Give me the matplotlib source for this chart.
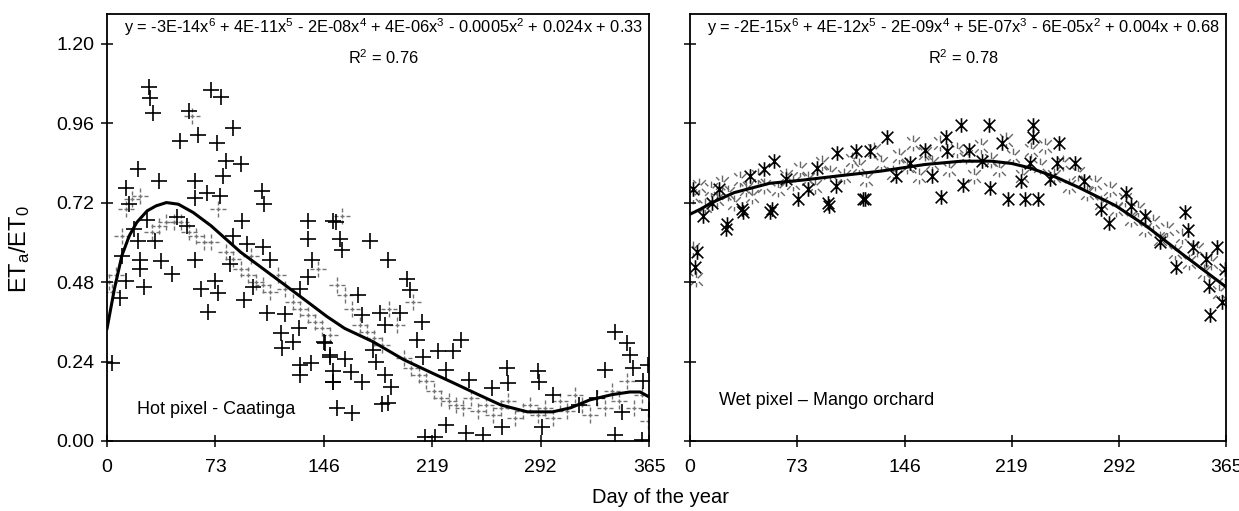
#!/usr/bin/env python
"""
ETa/ET0 through the year for a hot pixel (Caatinga) and a wet pixel (mango orchard).
"""

import matplotlib
matplotlib.use("Agg")
import matplotlib.pyplot as plt
from matplotlib.path import Path

plt.rcParams["font.family"] = ["Liberation Sans", "DejaVu Sans"]
plt.rcParams["mathtext.default"] = "regular"

# Hot pixel - Caatinga: main observations (bold crosses)
hot_day = [28, 29, 31, 55, 70, 77, 49, 61, 85, 74, 80, 90, 78, 21, 35, 13, 59, 59, 67, 76,
           104, 106, 15, 91, 135, 152, 27,
           3, 9, 13, 10, 21, 18, 32, 22, 36, 22, 44, 25, 59, 54, 47, 73, 75, 63, 68, 83, 85,
           94, 105, 110, 98, 92, 108, 120, 135, 138, 135, 130, 117, 129, 118, 125, 130, 130,
           137, 146, 150, 152, 152, 155,
           154, 157, 158, 177, 189, 202, 204, 169, 172, 184, 197, 187, 212, 209, 223, 233, 238,
           213, 228, 244, 269, 270, 259, 290, 291, 147, 150, 160, 164, 152, 172, 179, 181, 187,
           191, 189, 165, 185, 228, 242, 253, 266, 214, 221, 293,
           342, 350, 352, 335, 354, 364, 361, 347, 365, 342, 360, 300, 318, 330]
hot_val = [1.07, 1.035, 0.99, 0.995, 1.06, 1.04, 0.905, 0.925, 0.945, 0.90, 0.845, 0.835, 0.80,
           0.82, 0.785, 0.765, 0.785, 0.735, 0.75, 0.74, 0.755, 0.715, 0.715, 0.665, 0.665, 0.665,
           0.668,
           0.236, 0.433, 0.482, 0.558, 0.603, 0.64, 0.603, 0.548, 0.543, 0.518, 0.503, 0.464,
           0.548, 0.65, 0.675, 0.482, 0.448, 0.458, 0.39, 0.533, 0.618, 0.594, 0.585, 0.548,
           0.464, 0.427, 0.388, 0.382, 0.609, 0.548, 0.494, 0.458, 0.327, 0.342, 0.282, 0.30,
           0.23, 0.20, 0.236, 0.30, 0.26, 0.21, 0.178, 0.10,
           0.66, 0.61, 0.576, 0.603, 0.548, 0.49, 0.455, 0.44, 0.379, 0.388, 0.388, 0.35, 0.36,
           0.306, 0.273, 0.273, 0.306, 0.255, 0.215, 0.185, 0.22, 0.176, 0.16, 0.21, 0.179,
           0.297, 0.255, 0.248, 0.209, 0.179, 0.179, 0.276, 0.24, 0.20, 0.164, 0.115, 0.085,
           0.112, 0.048, 0.024, 0.018, 0.042, 0.012, 0.012, 0.042,
           0.33, 0.297, 0.26, 0.215, 0.22, 0.23, 0.18, 0.088, 0.094, 0.018, 0.003, 0.14, 0.11,
           0.13]

# Hot pixel: faint (broken) crosses
hot_faint_day = [1, 3, 6, 10, 13, 17, 22, 30, 35, 40, 45, 50, 55, 60, 65, 70, 75, 80, 85, 90,
                 95, 100, 105, 110, 115, 120, 125, 130, 135, 140, 145, 150, 155, 160, 165, 170,
                 175, 180, 185, 190, 195, 200, 205, 210, 215, 220, 225, 230, 235, 240, 245, 250,
                 255, 260, 265, 270, 275, 280, 285, 290, 295, 300, 305, 310, 315, 320, 325, 330,
                 335, 340, 345, 350, 355, 360, 364, 57, 97, 142, 158, 206]
hot_faint_val = [0.48, 0.45, 0.50, 0.62, 0.70, 0.73, 0.74, 0.63, 0.65, 0.66, 0.66, 0.66, 0.63,
                 0.62, 0.60, 0.60, 0.70, 0.57, 0.55, 0.52, 0.50, 0.48, 0.47, 0.45, 0.50, 0.46,
                 0.42, 0.40, 0.38, 0.36, 0.34, 0.32, 0.47, 0.44, 0.40, 0.35, 0.33, 0.31, 0.29,
                 0.40, 0.35, 0.25, 0.22, 0.20, 0.18, 0.15, 0.13, 0.12, 0.11, 0.10, 0.13, 0.09,
                 0.11, 0.08, 0.10, 0.12, 0.07, 0.09, 0.11, 0.08, 0.10, 0.07, 0.12, 0.09, 0.14,
                 0.11, 0.08, 0.13, 0.10, 0.15, 0.12, 0.18, 0.10, 0.14, 0.06, 0.98, 0.56, 0.52,
                 0.68, 0.42]

# Hot pixel: 6th order trend line
hot_fit_day = [0, 5, 10, 15, 20, 27, 33, 40, 48, 58, 70, 80, 90, 103, 121, 135, 148, 160, 179,
               200, 219, 233, 250, 265, 283, 300, 312, 325, 340, 352, 359, 365]
hot_fit_val = [0.34, 0.46, 0.56, 0.62, 0.66, 0.695, 0.71, 0.72, 0.715, 0.69, 0.65, 0.61, 0.57,
               0.527, 0.467, 0.42, 0.376, 0.34, 0.30, 0.245, 0.205, 0.176, 0.14, 0.109, 0.088,
               0.088, 0.10, 0.124, 0.14, 0.148, 0.148, 0.133]

# Wet pixel - Mango orchard: main observations (bold asterisks)
wet_day = [57, 41, 50, 36, 24.5, 54.5, 9, 86.5, 100, 113, 122.6, 134, 99.5, 94.7, 119, 73.6,
           184.6, 203.7, 174, 212.5, 233.6, 233.6, 251, 262, 199, 231.6, 175, 171, 186, 204,
           216.6, 228, 237, 225, 268, 297, 285, 310, 337, 342.6, 359, 331, 351, 364, 362, 354,
           339, 353.5, 4.6, 3.4, 25, 35, 56, 94, 118, 2, 15, 160, 150, 140, 80, 65, 20, 320,
           300, 280, 250, 245, 190, 165]
wet_val = [0.845, 0.80, 0.82, 0.69, 0.64, 0.69, 0.68, 0.825, 0.87, 0.877, 0.877, 0.918, 0.77,
           0.71, 0.73, 0.73, 0.955, 0.955, 0.918, 0.90, 0.955, 0.918, 0.90, 0.84, 0.845, 0.84,
           0.877, 0.736, 0.773, 0.764, 0.73, 0.73, 0.73, 0.785, 0.785, 0.75, 0.657, 0.68, 0.69,
           0.585, 0.585, 0.525, 0.55, 0.52, 0.42, 0.38, 0.636, 0.467, 0.57, 0.524, 0.655, 0.70,
           0.70, 0.72, 0.73, 0.76, 0.72, 0.88, 0.84, 0.80, 0.76, 0.79, 0.76, 0.60, 0.71, 0.70,
           0.84, 0.79, 0.88, 0.80]

# Wet pixel: faint (broken) asterisks
wet_faint_day = [2, 6, 10, 14, 18, 22, 26, 30, 34, 38, 42, 46, 50, 60, 65, 70, 75, 80, 85, 90,
                 95, 105, 110, 115, 120, 125, 130, 138, 142, 148, 152, 156, 160, 165, 170, 176,
                 182, 188, 193, 198, 205, 210, 215, 220, 226, 232, 238, 242, 248, 254, 258, 264,
                 270, 276, 280, 286, 290, 296, 300, 305, 310, 315, 320, 325, 330, 335, 340, 345,
                 350, 355, 360, 364, 2, 4]
wet_faint_val = [0.74, 0.77, 0.71, 0.76, 0.73, 0.78, 0.75, 0.72, 0.79, 0.76, 0.74, 0.80, 0.77,
                 0.76, 0.80, 0.78, 0.82, 0.79, 0.77, 0.84, 0.81, 0.80, 0.85, 0.83, 0.79, 0.88,
                 0.84, 0.81, 0.86, 0.83, 0.90, 0.80, 0.87, 0.84, 0.90, 0.82, 0.88, 0.86, 0.80,
                 0.89, 0.85, 0.82, 0.91, 0.86, 0.80, 0.88, 0.83, 0.89, 0.80, 0.84, 0.77, 0.81,
                 0.75, 0.78, 0.72, 0.76, 0.70, 0.73, 0.67, 0.70, 0.64, 0.66, 0.61, 0.64, 0.57,
                 0.62, 0.54, 0.58, 0.51, 0.54, 0.45, 0.50, 0.58, 0.49]

# Wet pixel: 6th order trend line
wet_fit_day = [0, 7, 15, 30, 54, 77, 100, 130, 160, 185, 205, 219, 232, 250, 264, 290, 311,
               335, 350, 365]
wet_fit_val = [0.685, 0.70, 0.72, 0.75, 0.778, 0.788, 0.80, 0.815, 0.835, 0.845, 0.845, 0.838,
               0.824, 0.795, 0.767, 0.71, 0.648, 0.565, 0.515, 0.465]

x_ticks = [0, 73, 146, 219, 292, 365]
y_ticks = [0.00, 0.24, 0.48, 0.72, 0.96, 1.20]

hot_eq = ("y = -3E-14x$^6$ + 4E-11x$^5$ - 2E-08x$^4$ + 4E-06x$^3$ - 0.0005x$^2$"
          " + 0.024x + 0.33")
wet_eq = ("y = -2E-15x$^6$ + 4E-12x$^5$ - 2E-09x$^4$ + 5E-07x$^3$ - 6E-05x$^2$"
          " + 0.004x + 0.68")


def segments(pairs):
    """Build a marker path out of separate line pieces."""
    verts, codes = [], []
    for a, b in pairs:
        verts += [a, b]
        codes += [Path.MOVETO, Path.LINETO]
    return Path(verts, codes)


plus_marker = segments([((-1, 0), (1, 0)), ((0, -1), (0, 1))])
broken_plus = segments([((-1, 0), (-0.55, 0)), ((-0.25, 0), (0.2, 0)), ((0.5, 0), (0.95, 0)),
                        ((0, -1), (0, -0.5)), ((0, -0.2), (0, 0.25)), ((0, 0.55), (0, 1))])
star_marker = segments([((0, -1), (0, 1)), ((-0.8, -0.8), (0.8, 0.8)), ((-0.8, 0.8), (0.8, -0.8))])
broken_star = segments([((0, -1), (0, -0.45)), ((0, 0.2), (0, 1)),
                        ((-0.8, -0.8), (-0.35, -0.35)), ((0.15, 0.15), (0.8, 0.8)),
                        ((-0.8, 0.8), (-0.4, 0.4)), ((0.3, -0.3), (0.8, -0.8))])


def style_axes(ax, show_labels):
    ax.set_xlim(0, 365)
    ax.set_ylim(0, 1.29)
    ax.set_xticks(x_ticks)
    ax.set_yticks(y_ticks)
    ax.set_yticklabels([f"{v:.2f}" for v in y_ticks] if show_labels else [])
    ax.tick_params(direction="inout", length=8, width=1.1, labelsize=14, pad=5,
                   top=False, right=False)
    ax.tick_params(axis="x", pad=9)
    for sp in ax.spines.values():
        sp.set_linewidth(1.3)


def plot_chart():
    fig = plt.figure(figsize=(12.39, 5.11), dpi=100)
    ax1 = fig.add_axes([0.0864, 0.137, 0.4375, 0.836])
    ax2 = fig.add_axes([0.557, 0.137, 0.4326, 0.836])

    ax1.scatter(hot_faint_day, hot_faint_val, marker=broken_plus, s=130, c="0.45", linewidths=1.0)
    ax1.scatter(hot_day, hot_val, marker=plus_marker, s=120, c="black", linewidths=1.2)
    ax1.plot(hot_fit_day, hot_fit_val, c="black", lw=2.2)

    ax2.scatter(wet_faint_day, wet_faint_val, marker=broken_star, s=130, c="0.4", linewidths=1.0)
    ax2.scatter(wet_day, wet_val, marker=star_marker, s=110, c="black", linewidths=1.2)
    ax2.plot(wet_fit_day, wet_fit_val, c="black", lw=2.2)

    style_axes(ax1, True)
    style_axes(ax2, False)

    for ax, eq, r2 in [(ax1, hot_eq, "R$^2$ = 0.76"), (ax2, wet_eq, "R$^2$ = 0.78")]:
        ax.text(0.51, 0.968, eq, transform=ax.transAxes, ha="center", va="center",
                fontsize=11.8)
        ax.text(0.51, 0.898, r2, transform=ax.transAxes, ha="center", va="center",
                fontsize=11.8)

    ax1.text(0.055, 0.073, "Hot pixel - Caatinga", transform=ax1.transAxes,
             ha="left", va="center", fontsize=13)
    ax2.text(0.054, 0.095, "Wet pixel \u2013 Mango orchard", transform=ax2.transAxes,
             ha="left", va="center", fontsize=13)

    ax1.set_ylabel("ET$_a$/ET$_0$", fontsize=17)
    ax1.yaxis.set_label_coords(-0.138, 0.45)
    fig.text(0.533, 0.027, "Day of the year", ha="center", va="center", fontsize=14.5)

    fig.savefig("out.png", dpi=100)


if __name__ == "__main__":
    plot_chart()
